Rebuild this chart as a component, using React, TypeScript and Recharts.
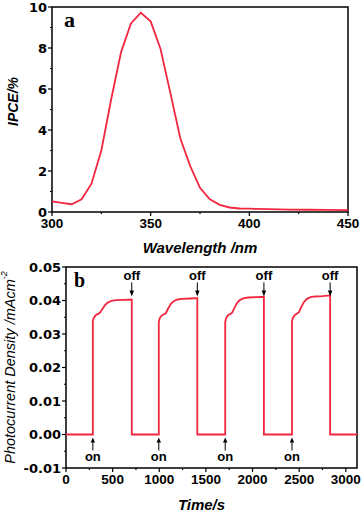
import React from "react";
import { LineChart, Line, XAxis, YAxis, ReferenceArea, ReferenceDot } from "recharts";

// Panel a: IPCE spectrum
const wavelengthNm = [300, 305, 310, 315, 320, 325, 330, 335, 340, 345, 350, 355, 360, 365, 370, 375, 380, 385, 390, 395, 400, 410, 420, 430, 440, 450];
const ipcePercent = [0.52, 0.45, 0.38, 0.62, 1.38, 3.0, 5.5, 7.8, 9.2, 9.72, 9.3, 7.95, 5.8, 3.6, 2.25, 1.18, 0.62, 0.35, 0.22, 0.17, 0.16, 0.14, 0.12, 0.11, 0.1, 0.09];
const wlMajorTicks = [300, 350, 400, 450];
const wlMinorTicks = [325, 375, 425];
const ipceMajorTicks = [0, 2, 4, 6, 8, 10];
const ipceMinorTicks = [1, 3, 5, 7, 9];

// Panel b: photocurrent transient
const timeS = [
  0,
  288, 288, 298, 318, 343, 363, 388, 418, 448, 488, 538, 620, 705, 705,
  995, 995, 1005, 1025, 1050, 1070, 1095, 1125, 1155, 1195, 1245, 1330, 1408, 1408,
  1707, 1707, 1717, 1737, 1762, 1782, 1807, 1837, 1867, 1907, 1957, 2040, 2122, 2122,
  2423, 2423, 2433, 2453, 2478, 2498, 2523, 2553, 2583, 2623, 2673, 2750, 2832, 2832,
  3120,
];
const currentDensity = [
  0,
  0, 0.034, 0.0348, 0.0356, 0.036, 0.0363, 0.0374, 0.0386, 0.0394, 0.0399, 0.0401, 0.0402, 0.0403, 0,
  0, 0.0338, 0.0347, 0.0355, 0.0359, 0.0362, 0.0376, 0.039, 0.0398, 0.0403, 0.0405, 0.0406, 0.0407, 0,
  0, 0.0336, 0.0347, 0.0356, 0.036, 0.0364, 0.0379, 0.0394, 0.0402, 0.0407, 0.0409, 0.041, 0.0411, 0,
  0, 0.0338, 0.0348, 0.0357, 0.0361, 0.0365, 0.0381, 0.0396, 0.0405, 0.041, 0.0412, 0.0413, 0.0415, 0,
  0,
];
const onTimes = [288, 995, 1707, 2423];
const offTimes = [705, 1408, 2122, 2832];
const offLabelLevel = 0.046;
const timeMajorTicks = [0, 500, 1000, 1500, 2000, 2500, 3000];
const timeMinorTicks = [250, 750, 1250, 1750, 2250, 2750];
const jMajorTicks = [-0.01, 0, 0.01, 0.02, 0.03, 0.04, 0.05];
const jMinorTicks = [-0.005, 0.005, 0.015, 0.025, 0.035, 0.045];

const spectrumData = wavelengthNm.map((w, i) => ({ w, v: ipcePercent[i] }));
const transientData = timeS.map((t, i) => ({ t, j: currentDensity[i] }));

const RED = "#f2273f";
const TICK_FONT = "'DejaVu Sans', sans-serif";
const TITLE_FONT = "'Liberation Sans', Arial, sans-serif";

const isMajor = (v: number, majors: number[]) => majors.some((m) => Math.abs(m - v) < 1e-9);

const makeXTick = (majors: number[], fmt: (v: number) => string) => (p: any) => {
  const { x, y, payload } = p;
  const major = isMajor(payload.value, majors);
  return (
    <g>
      <line x1={x} x2={x} y1={y} y2={y + (major ? 4 : 2)} stroke="#000" strokeWidth={1.2} />
      {major && (
        <text x={x} y={y + 16} textAnchor="middle" fontFamily={TITLE_FONT} fontWeight="bold" fontSize={13.5} fill="#000">
          {fmt(payload.value)}
        </text>
      )}
    </g>
  );
};

const makeYTick = (majors: number[], fmt: (v: number) => string) => (p: any) => {
  const { x, y, payload } = p;
  const major = isMajor(payload.value, majors);
  return (
    <g>
      <line x1={x} x2={x - (major ? 4 : 2)} y1={y} y2={y} stroke="#000" strokeWidth={1.2} />
      {major && (
        <text x={x - 5} y={y} dy="0.36em" textAnchor="end" fontFamily={TICK_FONT} fontWeight="bold" fontSize={13} fill="#000">
          {fmt(payload.value)}
        </text>
      )}
    </g>
  );
};

const OnMarker = (p: any) => {
  const { cx, cy } = p;
  return (
    <g>
      <line x1={cx} x2={cx} y1={cy + 16} y2={cy + 7} stroke="#000" strokeWidth={1} />
      <path d={`M${cx - 2.2},${cy + 8} L${cx + 2.2},${cy + 8} L${cx},${cy + 3} Z`} fill="#000" />
      <text x={cx} y={cy + 26} textAnchor="middle" fontFamily={TITLE_FONT} fontWeight="bold" fontSize={13} fill="#000">
        on
      </text>
    </g>
  );
};

const OffMarker = (p: any) => {
  const { cx, cy } = p;
  return (
    <g>
      <text x={cx} y={cy} textAnchor="middle" fontFamily={TITLE_FONT} fontWeight="bold" fontSize={13} fill="#000">
        off
      </text>
      <line x1={cx} x2={cx} y1={cy + 2} y2={cy + 11} stroke="#000" strokeWidth={1} />
      <path d={`M${cx - 2.2},${cy + 10} L${cx + 2.2},${cy + 10} L${cx},${cy + 16} Z`} fill="#000" />
    </g>
  );
};

const PanelLetter = (letter: string, dx: number, dy: number, size: number) => (p: any) => {
  const vb = p.viewBox || {};
  return (
    <text x={vb.x + dx} y={vb.y + dy} fontFamily="'Liberation Serif', 'Times New Roman', serif" fontWeight="bold" fontSize={size} fill="#000">
      {letter}
    </text>
  );
};

export default function App() {
  return (
    <div style={{ position: "absolute", left: 0, top: 0, width: 361, height: 512, background: "#fff" }}>
      <LineChart width={361} height={256} data={spectrumData} margin={{ top: 7, right: 13, bottom: 0, left: 0 }}>
        <XAxis
          dataKey="w"
          type="number"
          domain={[300, 450]}
          ticks={[...wlMajorTicks, ...wlMinorTicks].sort((a, b) => a - b)}
          interval={0}
          height={44}
          axisLine={false}
          tickLine={false}
          tickSize={0}
          tickMargin={0}
          tick={makeXTick(wlMajorTicks, (v) => String(v))}
          label={(p: any) => {
            const vb = p.viewBox || {};
            return (
              <text x={vb.x + vb.width / 2} y={vb.y + 41} textAnchor="middle" fontFamily={TITLE_FONT} fontWeight="bold" fontStyle="italic" fontSize={15} fill="#000">
                Wavelength /nm
              </text>
            );
          }}
        />
        <YAxis
          type="number"
          domain={[0, 10]}
          ticks={[...ipceMajorTicks, ...ipceMinorTicks].sort((a, b) => a - b)}
          interval={0}
          width={52}
          axisLine={false}
          tickLine={false}
          tickSize={0}
          tickMargin={0}
          tick={makeYTick(ipceMajorTicks, (v) => String(v))}
          label={(p: any) => {
            const vb = p.viewBox || {};
            const cx = 13;
            const cy = vb.y + vb.height / 2 - 8;
            return (
              <text x={cx} y={cy} transform={`rotate(-90 ${cx} ${cy})`} textAnchor="middle" dominantBaseline="central" fontFamily={TITLE_FONT} fontWeight="bold" fontStyle="italic" fontSize={14} fill="#000">
                IPCE/%
              </text>
            );
          }}
        />
        <Line type="linear" dataKey="v" stroke={RED} strokeWidth={1.8} dot={false} isAnimationActive={false} />
        <ReferenceArea x1={300} x2={450} y1={0} y2={10} fill="none" stroke="#000" strokeWidth={1.5} label={PanelLetter("a", 12, 20, 22)} />
      </LineChart>
      <LineChart width={361} height={256} data={transientData} margin={{ top: 11, right: 4, bottom: 0, left: 0 }}>
        <XAxis
          dataKey="t"
          type="number"
          domain={[0, 3120]}
          ticks={[...timeMajorTicks, ...timeMinorTicks].sort((a, b) => a - b)}
          interval={0}
          height={44}
          axisLine={false}
          tickLine={false}
          tickSize={0}
          tickMargin={0}
          tick={makeXTick(timeMajorTicks, (v) => String(v))}
          label={(p: any) => {
            const vb = p.viewBox || {};
            return (
              <text x={vb.x + vb.width / 2 - 10} y={vb.y + 42} textAnchor="middle" fontFamily={TITLE_FONT} fontWeight="bold" fontStyle="italic" fontSize={15} fill="#000">
                Time/s
              </text>
            );
          }}
        />
        <YAxis
          type="number"
          domain={[-0.01, 0.05]}
          ticks={[...jMajorTicks, ...jMinorTicks].sort((a, b) => a - b)}
          interval={0}
          width={66}
          axisLine={false}
          tickLine={false}
          tickSize={0}
          tickMargin={0}
          tick={makeYTick(jMajorTicks, (v) => v.toFixed(2))}
          label={(p: any) => {
            const vb = p.viewBox || {};
            const cx = 10;
            const cy = vb.y + vb.height / 2;
            return (
              <text x={cx} y={cy} transform={`rotate(-90 ${cx} ${cy})`} textAnchor="middle" dominantBaseline="central" fontFamily={TITLE_FONT} fontStyle="italic" fontSize={14.5} fill="#000">
                Photocurrent Density /mAcm
                <tspan fontSize={9} dy={-6}>-2</tspan>
              </text>
            );
          }}
        />
        <Line type="linear" dataKey="j" stroke={RED} strokeWidth={1.8} dot={false} isAnimationActive={false} />
        <ReferenceArea x1={0} x2={3120} y1={-0.01} y2={0.05} fill="none" stroke="#000" strokeWidth={1.5} label={PanelLetter("b", 8, 20, 20)} />
        {onTimes.map((t) => (
          <ReferenceDot key={`on${t}`} x={t} y={0} r={3} shape={OnMarker} />
        ))}
        {offTimes.map((t) => (
          <ReferenceDot key={`off${t}`} x={t} y={offLabelLevel} r={3} shape={OffMarker} />
        ))}
      </LineChart>
    </div>
  );
}
